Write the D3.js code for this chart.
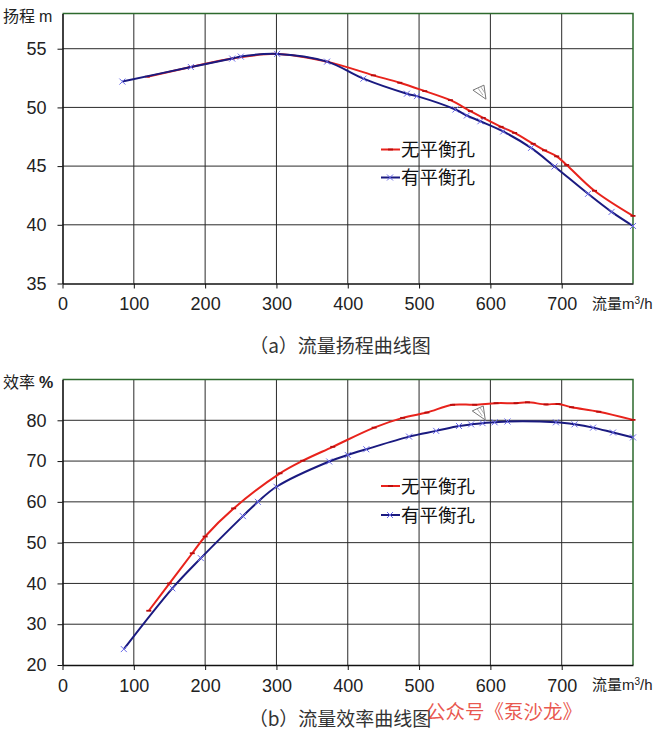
<!DOCTYPE html>
<html><head><meta charset="utf-8">
<script src="https://cdn.jsdelivr.net/npm/d3@7"></script>
<style>body{margin:0;background:#fff}svg{display:block}</style>
</head><body>
<svg id="c" width="669" height="733"></svg>
<script>
// ---------- data ----------
const flowTicks = [0, 100, 200, 300, 400, 500, 600, 700];
const headTicks = [35, 40, 45, 50, 55];
const effTicks = [20, 30, 40, 50, 60, 70, 80];
const seriesNames = ["无平衡孔", "有平衡孔"];

// (a) head curves
const headFlowNo = [119, 180, 238, 301, 371, 436, 473, 508, 544, 572, 590, 615, 634, 660, 676, 693, 707, 746, 800];
const headNo     = [52.62, 53.44, 54.16, 54.56, 53.9, 52.73, 52.1, 51.39, 50.62, 49.68, 49.11, 48.35, 47.83, 46.9, 46.34, 45.83, 45.1, 42.9, 40.76];
const headFlowYes = [84, 180, 238, 250, 301, 371, 422, 483, 497, 551, 567, 586, 618, 657, 690, 737, 770, 800];
const headYes     = [52.2, 53.44, 54.16, 54.33, 54.56, 53.9, 52.45, 51.17, 50.96, 49.82, 49.31, 48.82, 47.95, 46.55, 44.97, 42.64, 41.1, 39.9];

// (b) efficiency curves
const effFlowNo = [121, 150, 182, 200, 240, 305, 337, 379, 437, 477, 511, 547, 578, 608, 636, 652, 678, 695, 714, 752, 800];
const effNo     = [33.3, 40.0, 47.4, 51.5, 58.4, 67.0, 70.1, 73.5, 78.2, 80.6, 81.9, 83.8, 83.8, 84.2, 84.2, 84.4, 83.9, 84.0, 83.2, 82.1, 80.1];
const effFlowYes = [86, 154, 194, 253, 274, 300, 374, 400, 426, 486, 524, 556, 573, 589, 606, 624, 692, 718, 744, 772, 800];
const effYes     = [23.9, 38.8, 46.2, 56.5, 60.0, 63.7, 69.9, 71.5, 72.9, 76.0, 77.4, 78.6, 79.0, 79.3, 79.5, 79.7, 79.5, 79.0, 78.2, 77.0, 75.8];

// ---------- drawing ----------
const svg = d3.select("#c");
const RED = "#e8231c", RED_MK = "#b80c0c", BLUE = "#1a1a80", BLUE_MK = "#6a6ae8";
const GRID = "#2a2a2a", BORDER = "#2d6a2d";
const NUMFONT = "'Liberation Sans', Arial, sans-serif";
const CJK = "'Noto Sans CJK SC', sans-serif";

function panel(o) {
  const x = d3.scaleLinear().domain([0, 800]).range([62.5, 633]);
  const y = d3.scaleLinear().domain(o.yDomain).range([o.bottom, o.top]);
  const g = svg.append("g");

  // vertical grid
  g.selectAll(".vg").data(flowTicks.slice(1)).join("line")
    .attr("x1", d => x(d)).attr("x2", d => x(d))
    .attr("y1", y(o.yDomain[0])).attr("y2", y(o.yDomain[1]))
    .attr("stroke", GRID).attr("stroke-width", 1);
  // horizontal grid
  g.selectAll(".hg").data(o.yTicks.slice(1)).join("line")
    .attr("x1", x(0)).attr("x2", x(800))
    .attr("y1", d => y(d)).attr("y2", d => y(d))
    .attr("stroke", GRID).attr("stroke-width", 1);
  // top and right border (green)
  g.append("path")
    .attr("d", `M${x(0)},${y(o.yDomain[1])}H${x(800)}V${y(o.yDomain[0])}`)
    .attr("fill", "none").attr("stroke", BORDER).attr("stroke-width", 1.5);

  // axes
  const ax = g.append("g").attr("transform", `translate(0,${y(o.yDomain[0])})`)
    .call(d3.axisBottom(x).tickValues(flowTicks).tickSize(5).tickSizeOuter(0).tickPadding(9));
  const ay = g.append("g").attr("transform", `translate(${x(0)},0)`)
    .call(d3.axisLeft(y).tickValues(o.yTicks).tickSize(5).tickSizeOuter(0).tickPadding(11));
  [ax, ay].forEach(a => {
    a.select(".domain").attr("stroke", "#111").attr("stroke-width", 1.6);
    a.selectAll(".tick line").attr("stroke", "#111");
    a.selectAll("text").attr("font-family", NUMFONT).attr("font-size", 18).attr("fill", "#222");
  });

  // series
  const line = d3.line().x(d => x(d[0])).y(d => y(d[1])).curve(d3.curveCatmullRom.alpha(0.5));
  const no = o.flowNo.map((f, i) => [f, o.valNo[i]]);
  const yes = o.flowYes.map((f, i) => [f, o.valYes[i]]);

  g.append("path").datum(no).attr("d", line).attr("fill", "none")
    .attr("stroke", RED).attr("stroke-width", 2);
  g.selectAll(".mr").data(no).join("line")
    .attr("x1", d => x(d[0]) - 2.5).attr("x2", d => x(d[0]) + 2.5)
    .attr("y1", d => y(d[1])).attr("y2", d => y(d[1]))
    .attr("stroke", RED_MK).attr("stroke-width", 1.8);

  g.append("path").datum(yes).attr("d", line).attr("fill", "none")
    .attr("stroke", BLUE).attr("stroke-width", 2);
  g.selectAll(".mb").data(yes).join("path")
    .attr("d", d => { const cx = x(d[0]), cy = y(d[1]), s = 3;
      return `M${cx-s},${cy-s}L${cx+s},${cy+s}M${cx-s},${cy+s}L${cx+s},${cy-s}`; })
    .attr("stroke", BLUE_MK).attr("stroke-width", 1);

  // little cursor-like triangle artifact
  const tx = x(o.tri[0]), ty = y(o.tri[1]);
  g.append("path").attr("d", `M${tx-6},${ty-2}L${tx+5},${ty-7}L${tx+7},${ty+7}Z`)
    .attr("fill", "#fff").attr("stroke", "#777").attr("stroke-width", 1);
  g.append("path").attr("d", `M${tx-1},${ty-4}L${tx+4},${ty+3}M${tx+2},${ty-5}L${tx+6},${ty+1}`)
    .attr("stroke", "#999").attr("stroke-width", 0.8);

  // legend
  const leg = g.append("g");
  seriesNames.forEach((n, i) => {
    const ly = o.legY[i];
    leg.append("line").attr("x1", 381).attr("x2", 400).attr("y1", ly).attr("y2", ly)
      .attr("stroke", i === 0 ? RED : BLUE).attr("stroke-width", 2);
    if (i === 0) {
      leg.append("line").attr("x1", 388).attr("x2", 393).attr("y1", ly).attr("y2", ly)
        .attr("stroke", RED_MK).attr("stroke-width", 1.8);
    } else {
      leg.append("path").attr("d", `M387,${ly-3}L393,${ly+3}M387,${ly+3}L393,${ly-3}`)
        .attr("stroke", BLUE_MK).attr("stroke-width", 1);
    }
    leg.append("text").attr("x", 401).attr("y", ly).attr("dy", "0.36em")
      .attr("font-family", CJK).attr("font-size", 18.5).attr("fill", "#111").text(n);
  });

  // y axis title
  const yt = g.append("text").attr("x", 3).attr("y", o.top + 8)
    .attr("font-family", CJK).attr("font-size", 16).attr("fill", "#222");
  yt.append("tspan").text(o.yTitle);
  yt.append("tspan").attr("font-family", NUMFONT).attr("font-weight", o.unitBold ? "bold" : "normal")
    .attr("dx", 4).text(o.yUnit);

  // x axis title
  const xt = g.append("text").attr("x", 592).attr("y", y(o.yDomain[0]) + 20).attr("dy", "0.36em")
    .attr("font-family", CJK).attr("font-size", 15).attr("fill", "#222");
  xt.append("tspan").text("流量");
  xt.append("tspan").attr("font-family", NUMFONT).text("m");
  xt.append("tspan").attr("font-family", NUMFONT).attr("font-size", 10).attr("dy", "-0.5em").text("3");
  xt.append("tspan").attr("font-family", NUMFONT).attr("dy", "0.33em").text("/h");

  // caption
  svg.append("text").attr("x", 340).attr("y", o.captionY).attr("dy", "0.36em")
    .attr("text-anchor", "middle").attr("font-family", CJK).attr("font-size", 19)
    .attr("fill", "#333").text(o.caption);
}

panel({
  yDomain: [35, 58], top: 13.5, bottom: 283.5, yTicks: headTicks,
  flowNo: headFlowNo, valNo: headNo, flowYes: headFlowYes, valYes: headYes,
  legY: [149.5, 177.5], yTitle: "扬程", yUnit: "m", unitBold: false,
  caption: "（a）流量扬程曲线图", captionY: 346, tri: [584, 51.3]
});
panel({
  yDomain: [20, 90], top: 379.5, bottom: 665, yTicks: effTicks,
  flowNo: effFlowNo, valNo: effNo, flowYes: effFlowYes, valYes: effYes,
  legY: [486, 515], yTitle: "效率", yUnit: "%", unitBold: true,
  caption: "（b）流量效率曲线图", captionY: 719, tri: [583, 81.8]
});

// watermark
svg.append("text").attr("x", 426).attr("y", 712).attr("dy", "0.36em")
  .attr("font-family", CJK).attr("font-size", 19.5).attr("fill", "#e53a30")
  .attr("fill-opacity", 0.85).text("公众号《泵沙龙》");
</script>
</body></html>
